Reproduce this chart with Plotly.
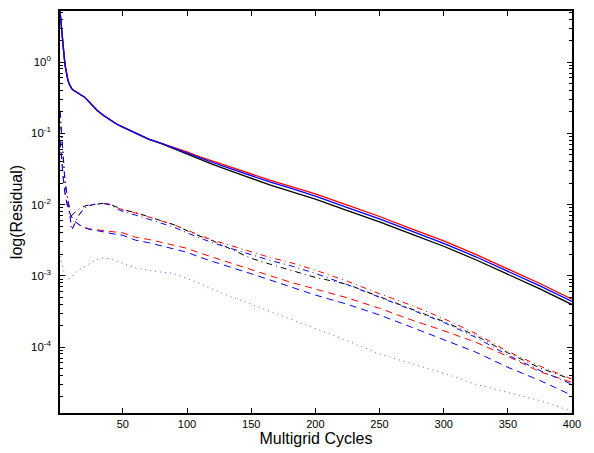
import plotly.graph_objects as go

# Multigrid cycle numbers at which residuals were sampled
cycles = [1, 2, 3, 4, 5, 6, 7, 8, 9, 10, 11, 12, 14, 16, 18, 20, 23, 26, 30, 35, 40, 45, 50,
          60, 70, 80, 90, 100, 110, 120, 135, 150, 165, 180, 200, 225, 250, 275, 300, 325,
          350, 375, 400]

# Solid curves
solid_red = [5.2, 3.55, 2.19, 1.32, 0.89, 0.68, 0.575, 0.50, 0.457, 0.427, 0.407, 0.398, 0.38,
             0.355, 0.339, 0.324, 0.282, 0.245, 0.209, 0.178, 0.155, 0.135, 0.122, 0.100, 0.083,
             0.072, 0.063, 0.055, 0.0468, 0.0407, 0.0331, 0.0269, 0.0219, 0.0182, 0.0141, 0.0098,
             0.0068, 0.00457, 0.00309, 0.00200, 0.00126, 0.00078, 0.00047]
solid_blue = [5.2, 3.55, 2.19, 1.32, 0.89, 0.68, 0.575, 0.50, 0.457, 0.427, 0.407, 0.398, 0.38,
              0.355, 0.339, 0.324, 0.282, 0.245, 0.209, 0.178, 0.155, 0.135, 0.122, 0.100, 0.083,
              0.072, 0.0616, 0.0531, 0.0449, 0.0389, 0.0315, 0.0254, 0.0206, 0.0171, 0.0131,
              0.00908, 0.0063, 0.00424, 0.00286, 0.00185, 0.00117, 0.000723, 0.000436]
solid_black = [5.2, 3.55, 2.19, 1.32, 0.89, 0.68, 0.575, 0.50, 0.457, 0.427, 0.407, 0.398, 0.38,
               0.355, 0.339, 0.324, 0.282, 0.245, 0.209, 0.178, 0.155, 0.135, 0.122, 0.100, 0.083,
               0.0715, 0.0602, 0.0513, 0.0427, 0.0367, 0.0292, 0.0233, 0.0187, 0.0154, 0.0119,
               0.00824, 0.00572, 0.00384, 0.00260, 0.00168, 0.00106, 0.000656, 0.000395]

# Dash-dot curves
dashdot_red = [0.20, 0.11, 0.058, 0.032, 0.020, 0.0155, 0.0125, 0.0095, 0.0065, 0.0044, 0.0047,
               0.0052, 0.0062, 0.0072, 0.0082, 0.0090, 0.0096, 0.0100, 0.0103, 0.0104, 0.0101,
               0.0091, 0.0084, 0.0076, 0.00668, 0.00589, 0.00519, 0.00437, 0.00367, 0.00316,
               0.00263, 0.00216, 0.0018, 0.00155, 0.0012, 0.00084, 0.00056, 0.000385, 0.000251,
               0.000155, 8.7e-5, 5.4e-5, 3.55e-5]
dashdot_blue = [0.20, 0.11, 0.058, 0.032, 0.020, 0.0155, 0.0125, 0.0095, 0.0065, 0.0044, 0.0047,
                0.0052, 0.0062, 0.0072, 0.0082, 0.0090, 0.0096, 0.0100, 0.0103, 0.0103, 0.0099,
                0.0087, 0.0080, 0.0071, 0.0062, 0.0054, 0.0048, 0.0040, 0.00337, 0.0029, 0.0024,
                0.00197, 0.00164, 0.0014, 0.00108, 0.00075, 0.0005, 0.00034, 0.000222, 0.000137,
                7.7e-5, 4.7e-5, 3.0e-5]
dashdot_black = [0.20, 0.11, 0.058, 0.032, 0.020, 0.0155, 0.0120, 0.0085, 0.0070, 0.0070, 0.0073,
                 0.0076, 0.0082, 0.0087, 0.0092, 0.0095, 0.0098, 0.0100, 0.0103, 0.0104, 0.0101,
                 0.0092, 0.0085, 0.0077, 0.0068, 0.0059, 0.0052, 0.0043, 0.0036, 0.0031, 0.00234,
                 0.00176, 0.00145, 0.0012, 0.00095, 0.00076, 0.00051, 0.000347, 0.000229,
                 0.000145, 8.3e-5, 5.1e-5, 3.5e-5]

# Dashed curves
dashed_red = [0.08, 0.045, 0.028, 0.019, 0.014, 0.011, 0.0092, 0.0080, 0.0072, 0.0066, 0.0062,
              0.0059, 0.0055, 0.0052, 0.0050, 0.0048, 0.0046, 0.0045, 0.0044, 0.0043, 0.0042,
              0.0041, 0.0040, 0.00347, 0.00324, 0.00295, 0.00266, 0.00243, 0.00209, 0.00182,
              0.0015, 0.00123, 0.0010, 0.00082, 0.000646, 0.00049, 0.00035, 0.00024, 0.00017,
              0.000117, 7.4e-5, 4.5e-5, 3.2e-5]
dashed_blue = [0.08, 0.045, 0.028, 0.019, 0.014, 0.011, 0.0092, 0.0080, 0.0072, 0.0066, 0.0062,
               0.0059, 0.0055, 0.0052, 0.0049, 0.0047, 0.0045, 0.0044, 0.0043, 0.0041, 0.0039,
               0.0038, 0.0037, 0.00316, 0.00292, 0.00263, 0.00237, 0.00214, 0.00182, 0.00158,
               0.0013, 0.00107, 0.00087, 0.00071, 0.000537, 0.000398, 0.000282, 0.00019,
               0.000126, 8.5e-5, 5.2e-5, 3.4e-5, 2.1e-5]

# Dotted curve
dotted_blue = [0.0019, 0.0016, 0.0013, 0.00115, 0.00105, 0.00098, 0.00093, 0.0009, 0.00092,
               0.00097, 0.00102, 0.00107, 0.00115, 0.00122, 0.00128, 0.00133, 0.00145, 0.00157,
               0.0017, 0.00178, 0.00172, 0.0016, 0.0015, 0.00129, 0.00119, 0.00114, 0.00107,
               0.00092, 0.00077, 0.00065, 0.0005, 0.0004, 0.000316, 0.00025, 0.000186, 0.000123,
               8.0e-5, 5.9e-5, 4.3e-5, 3.0e-5, 2.3e-5, 1.78e-5, 1.26e-5]

x_ticks = [50, 100, 150, 200, 250, 300, 350, 400]
y_ticks = [1e-4, 1e-3, 1e-2, 1e-1, 1]
y_tick_text = ["10<sup>-4</sup>", "10<sup>-3</sup>", "10<sup>-2</sup>", "10<sup>-1</sup>",
               "10<sup>0</sup>"]

DASHED = "7px,5px"
DASHDOT = "6px,4px,1px,4px"
DOTTED = "1px,4px"

series = [
    (dotted_blue, "#5a5aff", DOTTED, 1.0),
    (dashed_red, "#ff0000", DASHED, 1.0),
    (dashed_blue, "#0000ff", DASHED, 1.0),
    (dashdot_black, "#000000", DASHDOT, 1.0),
    (dashdot_red, "#ff0000", DASHDOT, 1.0),
    (dashdot_blue, "#0000ff", DASHDOT, 1.0),
    (solid_black, "#000000", "solid", 1.3),
    (solid_red, "#ff0000", "solid", 1.3),
    (solid_blue, "#0000ff", "solid", 1.3),
]

fig = go.Figure()
for values, color, dash, width in series:
    fig.add_trace(go.Scatter(x=cycles, y=values, mode="lines",
                             line=dict(color=color, dash=dash, width=width),
                             showlegend=False, hoverinfo="skip"))

minor_ticks = [m * 10.0 ** d for d in range(-5, 1) for m in range(2, 10)]

font = "Liberation Sans, Arial, Helvetica, sans-serif"
fig.update_layout(
    width=594, height=453,
    margin=dict(l=60, r=22, t=9, b=40),
    paper_bgcolor="white", plot_bgcolor="white",
    font=dict(family=font, color="black", size=11),
)
fig.update_xaxes(
    range=[1, 400], tickvals=x_ticks, ticks="inside", ticklen=5, tickcolor="black",
    showline=True, linecolor="black", linewidth=1.5, mirror="allticks",
    showgrid=False, zeroline=False, tickfont=dict(size=11),
    title=dict(text="Multigrid Cycles", font=dict(size=16), standoff=2),
)
fig.update_yaxes(
    type="log", range=[-4.925, 0.716], tickvals=y_ticks, ticktext=y_tick_text,
    ticks="inside", ticklen=5, tickcolor="black",
    minor=dict(tickvals=minor_ticks, ticks="inside", ticklen=3, tickcolor="black",
               showgrid=False),
    showline=True, linecolor="black", linewidth=1.5, mirror="allticks",
    showgrid=False, zeroline=False, tickfont=dict(size=11.5), ticklabelstandoff=5,
    title=dict(text="log(Residual)", font=dict(size=16), standoff=4),
)

fig.write_html("out.html")
